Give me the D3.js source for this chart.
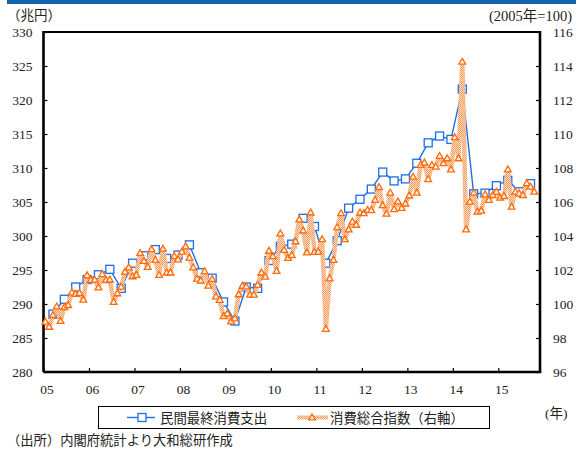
<!DOCTYPE html>
<html>
<head>
<meta charset="utf-8">
<script src="https://cdn.jsdelivr.net/npm/d3@7/dist/d3.min.js"></script>
<style>
  html, body { margin: 0; padding: 0; background: #fff; }
  svg { display: block; }
  text { font-family: 'Liberation Serif', 'Noto Sans CJK JP', serif; fill: #222; }
</style>
</head>
<body>
<div id="chart"></div>
<script>
// 年ラベル（1月の位置）
const yearLabels = ["05", "06", "07", "08", "09", "10", "11", "12", "13", "14", "15"];

// 民間最終消費支出（兆円、四半期：2005Q1〜2015Q3）
const consumption = [
  288.5, 290.7, 292.5, 293.6,
  294.3, 295.1, 292.3, 296.0,
  297.1, 298.0, 296.7, 297.2,
  298.7, 294.6, 293.8, 290.3,
  287.5, 292.5, 292.3, 296.4,
  298.5, 298.8, 302.6, 301.4,
  296.0, 299.3, 304.1, 305.4,
  306.9, 309.4, 308.1, 308.4,
  310.7, 313.7, 314.7, 314.2,
  321.6, 306.2, 306.3, 307.4,
  308.2, 306.5, 307.7
];

// 消費総合指数（2005年=100、月次：2005年1月〜2015年10月）
const consumptionIndex = [
  98.96, 98.66, 99.35, 99.86, 99.00, 99.82, 99.94, 100.68, 100.59, 100.65, 100.25, 101.69,
  101.41, 101.43, 100.97, 101.76, 101.41, 101.44, 100.12, 100.63, 101.02, 101.90, 102.15, 101.63,
  101.71, 103.00, 102.53, 102.18, 103.22, 102.59, 101.71, 103.25, 101.85, 101.85, 102.82, 102.62,
  103.08, 103.39, 102.72, 102.15, 101.49, 101.38, 101.93, 101.08, 101.47, 100.45, 100.24, 99.28,
  99.45, 98.98, 99.15, 100.57, 101.07, 101.03, 100.55, 100.55, 101.12, 101.85, 101.61, 103.13,
  102.81, 101.95, 104.15, 103.18, 102.71, 102.88, 103.69, 104.98, 104.32, 103.03, 105.38, 103.06,
  103.08, 103.81, 98.54, 101.51, 102.59, 104.52, 105.34, 103.81, 104.39, 104.84, 104.66, 105.38,
  105.34, 105.53, 105.52, 106.12, 106.88, 105.81, 105.31, 106.55, 105.58, 106.03, 105.65, 105.91,
  106.38, 107.49, 106.55, 108.18, 108.32, 107.34, 108.18, 108.08, 108.71, 108.28, 108.57, 107.92,
  109.81, 108.57, 114.25, 104.39, 106.02, 106.55, 105.43, 105.49, 106.45, 106.12, 106.41, 106.61,
  106.25, 106.35, 107.92, 105.72, 106.61, 106.51, 106.41, 107.10, 106.90, 106.61
];

const leftTicks = [280, 285, 290, 295, 300, 305, 310, 315, 320, 325, 330];
const rightTicks = [96, 98, 100, 102, 104, 106, 108, 110, 112, 114, 116];

const seriesNames = ["民間最終消費支出", "消費総合指数（右軸）"];

const W = 580, H = 450;
const plot = { left: 43.5, right: 540, top: 32, bottom: 372 };
const nMonths = 131; // 2005年1月〜2015年11月の目盛り幅

const svg = d3.select("#chart").append("svg")
  .attr("width", W).attr("height", H);

// 市松模様の線（消費総合指数）
const defs = svg.append("defs");
const pat = defs.append("pattern")
  .attr("id", "checker").attr("width", 2).attr("height", 2)
  .attr("patternUnits", "userSpaceOnUse");
pat.append("rect").attr("width", 2).attr("height", 2).attr("fill", "#fddcc4");
pat.append("rect").attr("x", 0).attr("y", 0).attr("width", 1).attr("height", 1).attr("fill", "#f79a5c");
pat.append("rect").attr("x", 1).attr("y", 1).attr("width", 1).attr("height", 1).attr("fill", "#f79a5c");

// 上部の帯
svg.append("rect").attr("x", 7).attr("y", 0).attr("width", 569).attr("height", 4)
  .attr("fill", "#1762ad");

const x = d3.scaleLinear().domain([-0.5, nMonths - 0.5]).range([plot.left, plot.right]);
const yL = d3.scaleLinear().domain([280, 330]).range([plot.bottom, plot.top]);
const yR = d3.scaleLinear().domain([96, 116]).range([plot.bottom, plot.top]);

// 軸
const axL = svg.append("g").attr("transform", `translate(${plot.left},0)`)
  .call(d3.axisLeft(yL).tickValues(leftTicks).tickSizeInner(-4).tickSizeOuter(0).tickPadding(11));
const axR = svg.append("g").attr("transform", `translate(${plot.right},0)`)
  .call(d3.axisRight(yR).tickValues(rightTicks).tickSizeInner(-4).tickSizeOuter(0).tickPadding(13));
const yearTicks = yearLabels.map((d, i) => i * 12 - 0.5);
const axB = svg.append("g").attr("transform", `translate(0,${plot.bottom})`)
  .call(d3.axisBottom(x).tickValues(yearTicks)
    .tickFormat((d, i) => yearLabels[i]).tickSizeInner(-4).tickSizeOuter(0).tickPadding(12));
axB.selectAll("text").attr("dx", 3);

[axL, axR, axB].forEach(g => {
  g.select(".domain").remove();
  g.selectAll("line").attr("stroke", "#000").attr("stroke-width", 1.2);
  g.selectAll("text").attr("font-size", 13.5)
    .style("font-family", "'Liberation Serif', serif").attr("fill", "#222");
});

// 枠
svg.append("line").attr("x1", plot.left).attr("x2", plot.right).attr("y1", plot.top).attr("y2", plot.top)
  .attr("stroke", "#000").attr("stroke-width", 2);
svg.append("line").attr("x1", plot.left).attr("x2", plot.right + 1.3).attr("y1", plot.bottom).attr("y2", plot.bottom)
  .attr("stroke", "#000").attr("stroke-width", 2.6);
svg.append("line").attr("x1", plot.left).attr("x2", plot.left).attr("y1", plot.top - 1).attr("y2", plot.bottom)
  .attr("stroke", "#000").attr("stroke-width", 2.6);
svg.append("line").attr("x1", plot.right).attr("x2", plot.right).attr("y1", plot.top - 1).attr("y2", plot.bottom)
  .attr("stroke", "#000").attr("stroke-width", 2.6);

// 民間最終消費支出（四半期の末月に配置）
const bluePts = consumption.map((v, k) => [x(k * 3 + 2), yL(v)]);
const blue = "#1c6ee6";
svg.append("path").attr("d", d3.line()(bluePts))
  .attr("fill", "none").attr("stroke", blue).attr("stroke-width", 1.4);
svg.append("g").selectAll("rect").data(bluePts).join("rect")
  .attr("x", d => d[0] - 4).attr("y", d => d[1] - 4)
  .attr("width", 8).attr("height", 8)
  .attr("fill", "#fff").attr("stroke", blue).attr("stroke-width", 1.3);

// 消費総合指数
const orangePts = consumptionIndex.map((v, i) => [x(i), yR(v)]);
svg.append("path").attr("d", d3.line()(orangePts))
  .attr("fill", "none").attr("stroke", "url(#checker)").attr("stroke-width", 4.5)
  .attr("stroke-linejoin", "round");
const tri = d3.symbol().type(d3.symbolTriangle).size(20);
svg.append("g").selectAll("path").data(orangePts).join("path")
  .attr("transform", d => `translate(${d[0]},${d[1] + 0.5})`)
  .attr("d", tri)
  .attr("fill", "#fff4ea").attr("stroke", "#ff6a0a").attr("stroke-width", 1.3);

// 単位ラベル
svg.append("text").attr("x", 7).attr("y", 20).attr("font-size", 13.5).text("（兆円）");
svg.append("text").attr("x", 572).attr("y", 21).attr("text-anchor", "end").attr("font-size", 14.5)
  .text("(2005年=100)");
svg.append("text").attr("x", 545).attr("y", 418).attr("font-size", 13.5).text("(年)");

// 凡例
svg.append("rect").attr("x", 98.5).attr("y", 406.5).attr("width", 391).attr("height", 22)
  .attr("fill", "#fff").attr("stroke", "#000").attr("stroke-width", 1);
const lg = svg.append("g");
lg.append("line").attr("x1", 127).attr("x2", 155).attr("y1", 417.5).attr("y2", 417.5)
  .attr("stroke", blue).attr("stroke-width", 1.4);
lg.append("rect").attr("x", 138).attr("y", 413.5).attr("width", 8).attr("height", 8)
  .attr("fill", "#fff").attr("stroke", blue).attr("stroke-width", 1.3);
lg.append("text").attr("x", 160).attr("y", 422.5).attr("font-size", 13.4).text(seriesNames[0]);
lg.append("line").attr("x1", 297).attr("x2", 328).attr("y1", 417.5).attr("y2", 417.5)
  .attr("stroke", "url(#checker)").attr("stroke-width", 4);
lg.append("path").attr("transform", "translate(312,418)").attr("d", tri)
  .attr("fill", "#fff4ea").attr("stroke", "#ff6a0a").attr("stroke-width", 1.3);
lg.append("text").attr("x", 330).attr("y", 422.5).attr("font-size", 13.4).text(seriesNames[1]);

// 出所
svg.append("text").attr("x", 7).attr("y", 445).attr("font-size", 13.3)
  .text("（出所）内閣府統計より大和総研作成");
</script>
</body>
</html>
